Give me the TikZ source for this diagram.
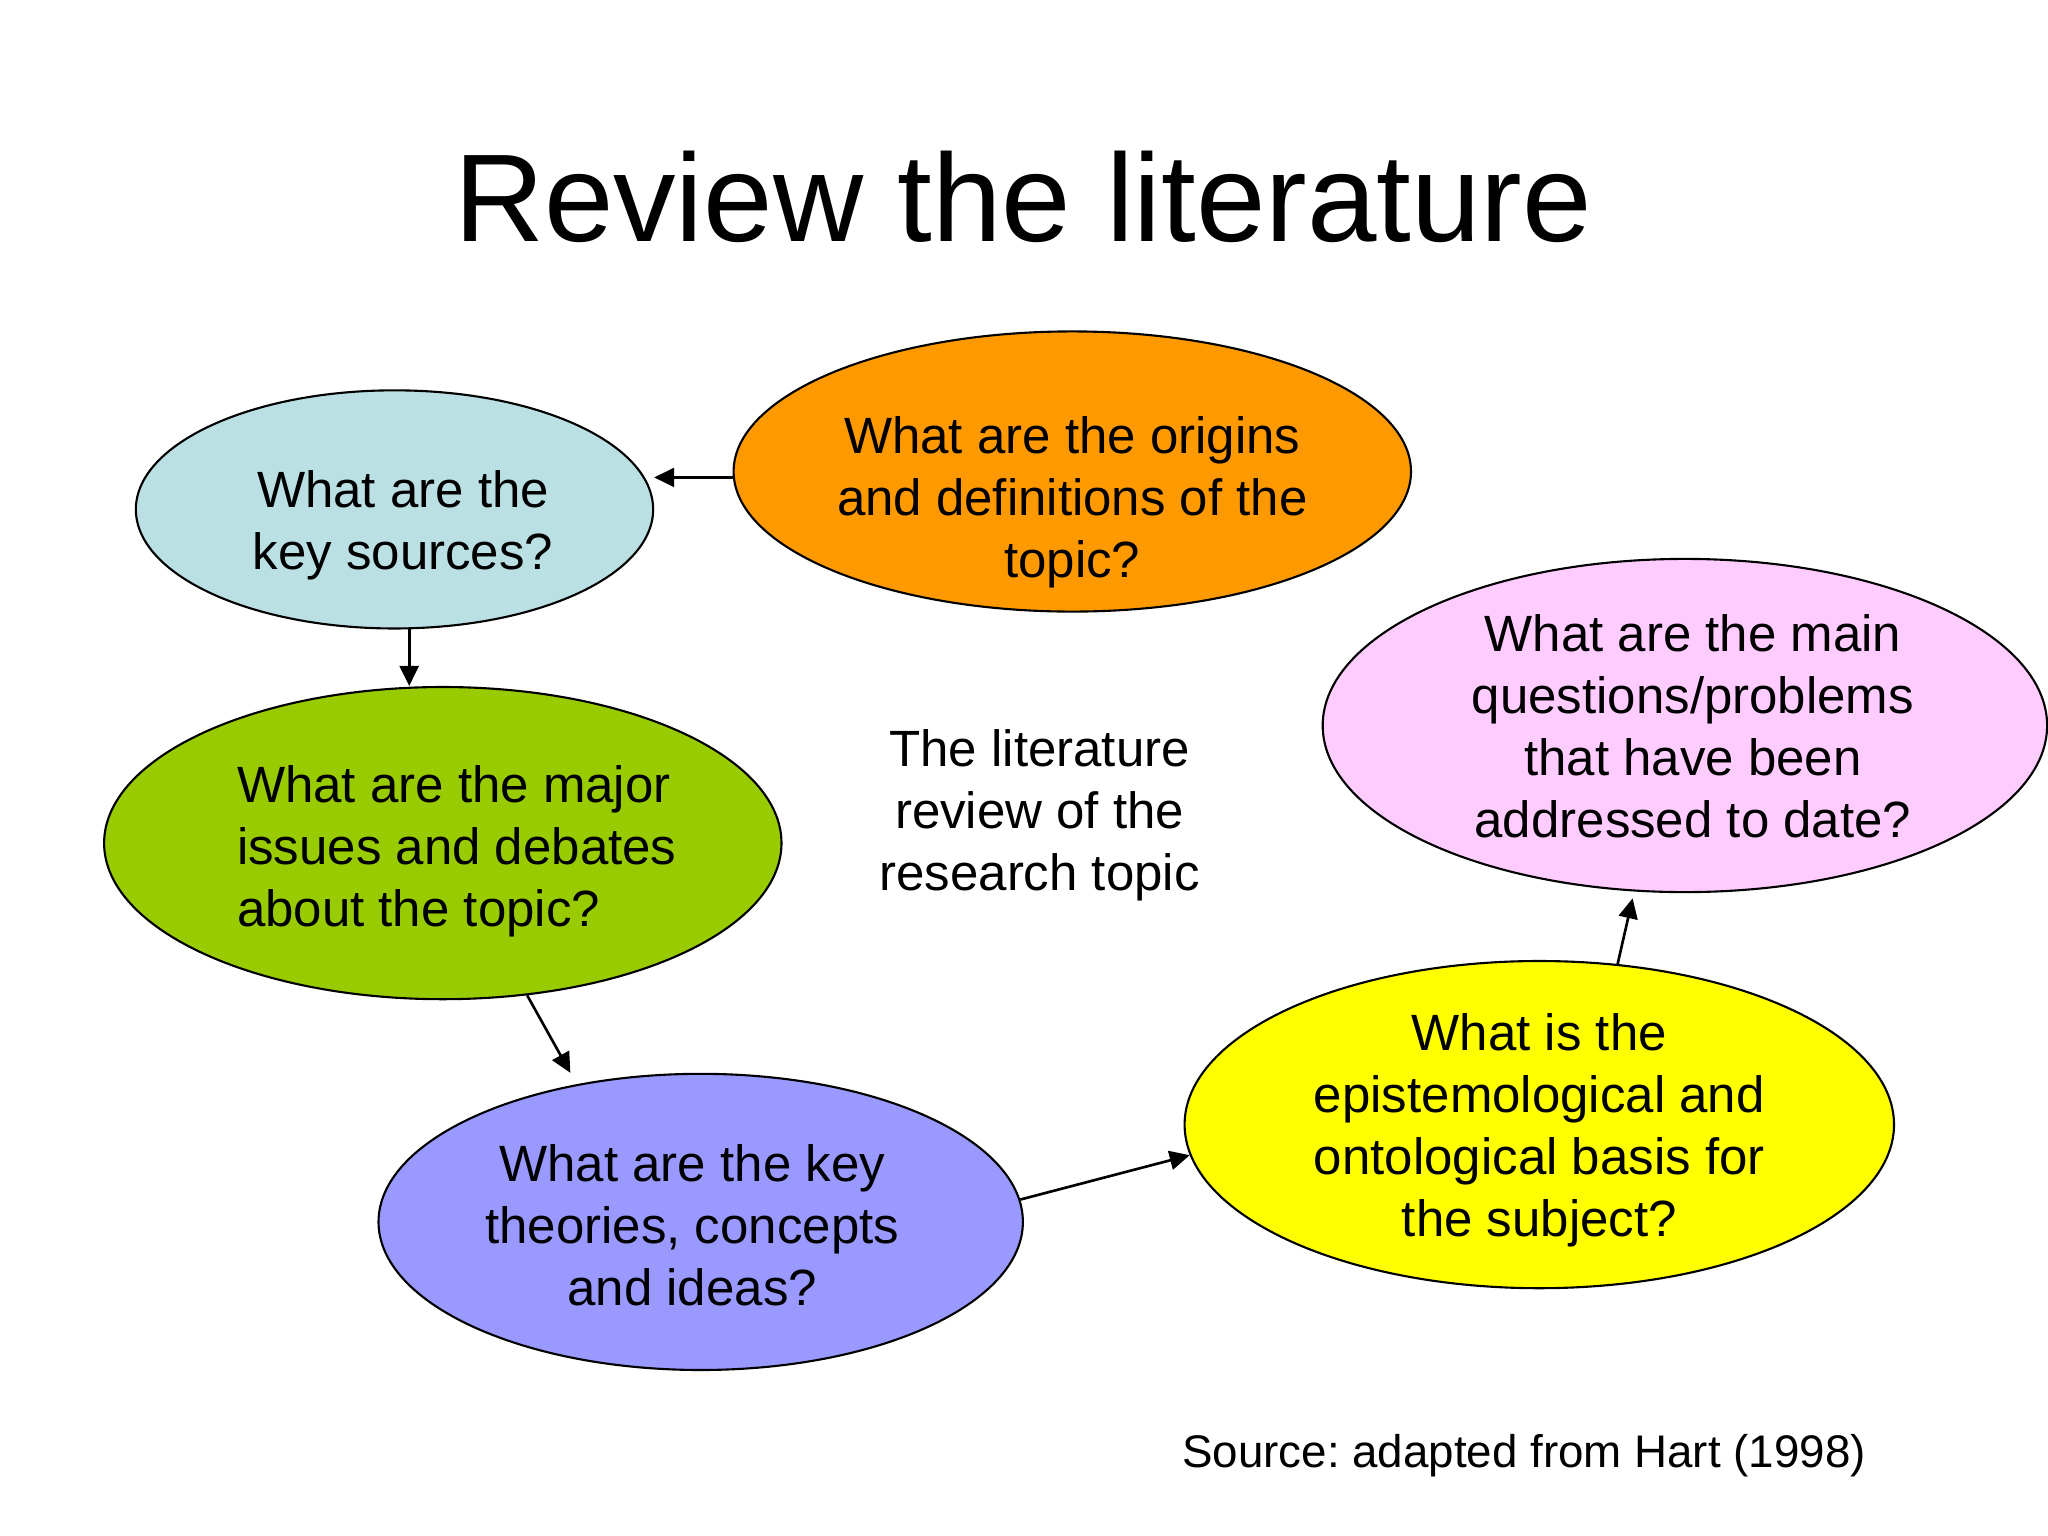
\documentclass[tikz,border=0pt]{standalone}
\usepackage{fontspec}
\setmainfont{Liberation Sans}
\usetikzlibrary{shapes.geometric,arrows.meta}
\frenchspacing

\begin{document}
\begin{tikzpicture}[x=0.01cm, y=-0.01cm,
        bubble/.style={ellipse, draw, line width=0.6pt, inner sep=0pt},
        txt/.style={align=center, inner sep=0pt, font=\fontsize{14.5}{17.6}\selectfont},
        arr/.style={-{Triangle[length=0.2cm,width=0.19cm]}, line width=0.75pt}]
    \fill[white] (0, 0) rectangle (2048, 1536);
    \useasboundingbox (0, 0) rectangle (2048, 1536);

    \node[font=\fontsize{35.5}{40}\selectfont, anchor=base] (title) at (1023, 241.6) {Review the literature};

    \node[bubble, fill={rgb,255:red,187;green,224;blue,227}, minimum width=5.17cm, minimum height=2.38cm] (sources) at (394.5, 509.4) {};
    \node[bubble, fill={rgb,255:red,255;green,153;blue,0}, minimum width=6.77cm, minimum height=2.80cm] (origins) at (1072.3, 471.5) {};
    \node[bubble, fill={rgb,255:red,153;green,204;blue,0}, minimum width=6.77cm, minimum height=3.12cm] (issues) at (442.8, 843.1) {};
    \node[bubble, fill={rgb,255:red,153;green,153;blue,255}, minimum width=6.44cm, minimum height=2.96cm] (theories) at (700.7, 1221.9) {};
    \node[bubble, fill={rgb,255:red,255;green,255;blue,0}, minimum width=7.09cm, minimum height=3.27cm] (basis) at (1539.3, 1124.6) {};
    \node[bubble, fill={rgb,255:red,255;green,204;blue,255}, minimum width=7.24cm, minimum height=3.33cm] (questions) at (1684.9, 725.5) {};

    \node[txt] (sourcesT) at ([shift={(8.5, 16)}]sources) {What are the\\key sources?};
    \node[txt] (originsT) at ([shift={(0, 31)}]origins) {What are the origins\\and definitions of the\\topic?};
    \node[txt, align=left] (issuesT) at ([shift={(14, 8)}]issues) {What are the major\\issues and debates\\about the topic?};
    \node[txt] (theoriesT) at ([shift={(-8.5, 3)}]theories) {What are the key\\theories, concepts\\and ideas?};
    \node[txt] (basisT) at ([shift={(0, 6)}]basis) {What is the\\epistemological and\\ontological basis for\\the subject?};
    \node[txt] (questionsT) at ([shift={(8, 1)}]questions) {What are the main\\questions/problems\\that have been\\addressed to date?};

    \node[txt] (review) at (1039.6, 815) {The literature\\review of the\\research topic};
    \node[font=\fontsize{13}{15}\selectfont, anchor=base] (source) at (1524, 1467) {Source: adapted from Hart (1998)};

    \draw[arr] (origins.181) -- (origins.181 -| sources.east);
    \draw[arr] (sources.-83) -- (sources.-83 |- issues.north);
    \draw[arr, shorten >=0.13cm] (issues.-61.6) -- (theories.132);
    \draw[arr] (theories.4) -- (basis.185);
    \draw[arr, shorten >=0.07cm] (basis.64) -- (questions.253);
\end{tikzpicture}
\end{document}
